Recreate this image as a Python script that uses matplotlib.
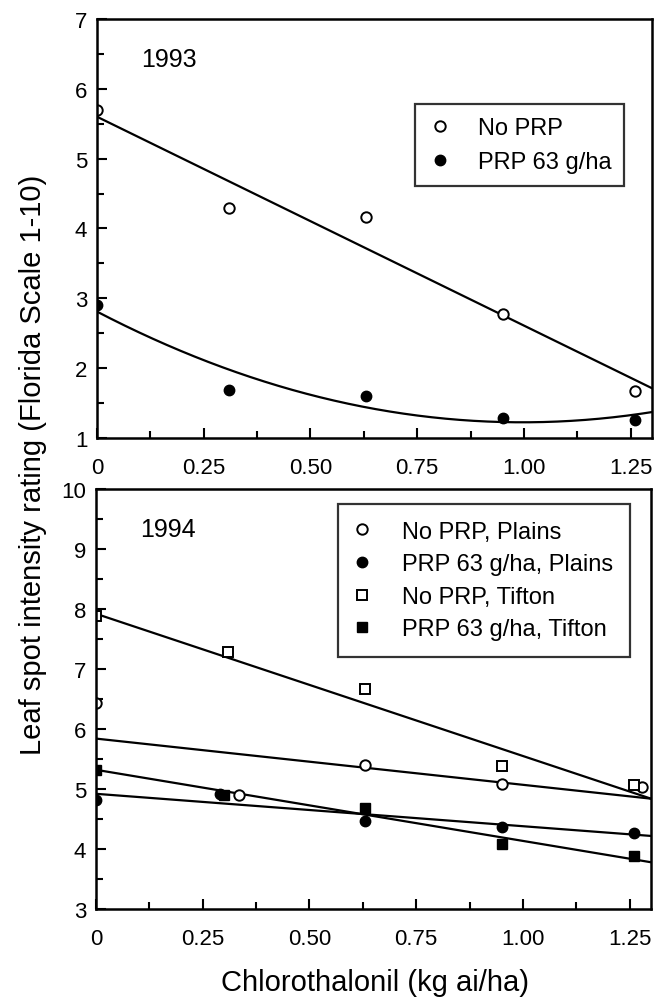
import numpy as np
import matplotlib
matplotlib.use('Agg')
from matplotlib import pyplot as plt
from matplotlib.ticker import MultipleLocator

plt.rcParams['font.family'] = ['Liberation Sans', 'DejaVu Sans']

# 1993 data
x93 = [0, 0.31, 0.63, 0.95, 1.26]
no_prp_93 = [5.70, 4.30, 4.17, 2.78, 1.67]
prp_93 = [2.91, 1.69, 1.60, 1.28, 1.26]
# fitted lines 1993
fit_no_prp_93 = [5.60, -2.99]          # intercept, slope
fit_prp_93 = [2.81, -3.18, 1.595]      # a + b x + c x^2

# 1994 data
x_plains = [0, 0.336, 0.63, 0.95, 1.28]
no_prp_plains = [6.43, 4.90, 5.40, 5.08, 5.03]
x_plains_prp = [0, 0.29, 0.63, 0.95, 1.26]
prp_plains = [4.81, 4.92, 4.47, 4.37, 4.26]
x_tifton = [0, 0.31, 0.63, 0.95, 1.26]
no_prp_tifton = [7.88, 7.29, 6.67, 5.38, 5.07]
x_tifton_prp = [0, 0.30, 0.63, 0.95, 1.26]
prp_tifton = [5.31, 4.90, 4.68, 4.09, 3.89]
# fitted lines 1994: intercept, slope
fit_no_prp_tifton = [7.92, -2.37]
fit_no_prp_plains = [5.84, -0.77]
fit_prp_tifton = [5.32, -1.185]
fit_prp_plains = [4.92, -0.54]

xticks = [0, 0.25, 0.50, 0.75, 1.00, 1.25]
xticklabels = ['0', '0.25', '0.50', '0.75', '1.00', '1.25']

fig = plt.figure(figsize=(6.54, 10.03), dpi=100)
ax1 = fig.add_axes([0.1483, 0.5623, 0.8486, 0.4178])
ax2 = fig.add_axes([0.1468, 0.0927, 0.8486, 0.4188])

xx = np.linspace(0, 1.30, 200)
lw = 1.6
ms = 7.5

def style(ax, ymin, ymax):
	ax.set_xlim(0, 1.30)
	ax.set_ylim(ymin, ymax)
	ax.set_xticks(xticks)
	ax.set_xticklabels(xticklabels)
	ax.xaxis.set_minor_locator(MultipleLocator(0.125))
	ax.yaxis.set_major_locator(MultipleLocator(1))
	ax.yaxis.set_minor_locator(MultipleLocator(0.5))
	ax.tick_params(which='both', direction='in', top=False, right=False, width=1.5, labelsize=16)
	ax.tick_params(which='major', length=7)
	ax.tick_params(which='minor', length=5)
	ax.tick_params(axis='x', which='major', pad=14)
	ax.tick_params(axis='y', which='major', pad=7)
	for s in ax.spines.values():
		s.set_linewidth(1.8)

# top panel
ax1.plot(xx, fit_no_prp_93[0] + fit_no_prp_93[1] * xx, color='black', lw=lw)
ax1.plot(xx, fit_prp_93[0] + fit_prp_93[1] * xx + fit_prp_93[2] * xx ** 2, color='black', lw=lw)
ax1.plot(x93, no_prp_93, 'o', mfc='white', mec='black', mew=1.4, ms=ms, label='No PRP')
ax1.plot(x93, prp_93, 'o', mfc='black', mec='black', ms=ms, label='PRP 63 g/ha')
style(ax1, 1, 7)
ax1.text(0.079, 0.905, '1993', transform=ax1.transAxes, fontsize=18, va='center')
leg1 = ax1.legend(loc='upper right', bbox_to_anchor=(0.95, 0.797), fontsize=17, frameon=True,
	fancybox=False, edgecolor='black', handlelength=1.0, handletextpad=1.1, labelspacing=0.5,
	borderpad=0.55, borderaxespad=0)
leg1.get_frame().set_linewidth(1.6)

# bottom panel
for fit in [fit_no_prp_tifton, fit_no_prp_plains, fit_prp_tifton, fit_prp_plains]:
	ax2.plot(xx, fit[0] + fit[1] * xx, color='black', lw=lw)
ax2.plot(x_plains, no_prp_plains, 'o', mfc='white', mec='black', mew=1.4, ms=ms, label='No PRP, Plains')
ax2.plot(x_plains_prp, prp_plains, 'o', mfc='black', mec='black', ms=ms, label='PRP 63 g/ha, Plains')
ax2.plot(x_tifton, no_prp_tifton, 's', mfc='white', mec='black', mew=1.4, ms=ms - 0.5, label='No PRP, Tifton')
ax2.plot(x_tifton_prp, prp_tifton, 's', mfc='black', mec='black', ms=ms - 0.5, label='PRP 63 g/ha, Tifton')
style(ax2, 3, 10)
ax2.text(0.079, 0.905, '1994', transform=ax2.transAxes, fontsize=18, va='center')
leg2 = ax2.legend(loc='upper right', bbox_to_anchor=(0.962, 0.964), fontsize=17, frameon=True,
	fancybox=False, edgecolor='black', handlelength=0.6, handletextpad=1.4, labelspacing=0.45,
	borderpad=0.7, borderaxespad=0)
leg2.get_frame().set_linewidth(1.6)

fig.text(0.05, 0.5364, 'Leaf spot intensity rating (Florida Scale 1-10)', rotation=90,
	fontsize=21, ha='center', va='center')
fig.text(0.573, 0.02, 'Chlorothalonil (kg ai/ha)', fontsize=21, ha='center', va='center')

fig.savefig('out.png', dpi=100)
